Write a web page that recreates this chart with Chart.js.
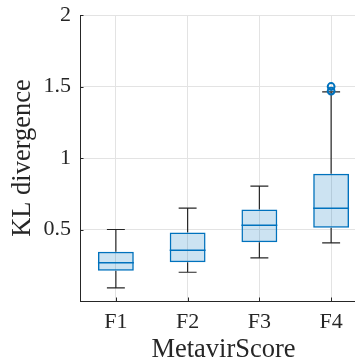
<!DOCTYPE html>
<html>
<head>
<meta charset="utf-8">
<script src="https://cdn.jsdelivr.net/npm/chart.js@4.4.1/dist/chart.umd.min.js"></script>
<style>
  html, body { margin: 0; padding: 0; background: #fff; overflow: hidden; }
  #wrap { width: 367px; height: 363px; }
</style>
</head>
<body>
<div id="wrap"><canvas id="c" width="367" height="363"></canvas></div>
<script>
const categories = ['F1', 'F2', 'F3', 'F4'];
const whiskerLow  = [0.092, 0.201, 0.302, 0.407];
const q1          = [0.211, 0.271, 0.411, 0.512];
const medians     = [0.267, 0.355, 0.530, 0.649];
const q3          = [0.344, 0.479, 0.640, 0.890];
const whiskerHigh = [0.500, 0.649, 0.803, 1.463];
const outlierCategory = ['F4', 'F4'];
const outlierValues   = [1.468, 1.500];
const yTicks = [0.5, 1, 1.5, 2];

const BLUE = '#0072BD';
const AXIS = '#262626';
const GRID = '#e3e3e3';
const FONT = "'Liberation Serif', 'Times New Roman', serif";

const boxPlugin = {
  id: 'boxParts',
  beforeDatasetsDraw(chart) {
    const ctx = chart.ctx;
    const xs = chart.scales.x, ys = chart.scales.y;
    const meta = chart.getDatasetMeta(0);
    ctx.save();
    ctx.strokeStyle = AXIS;
    ctx.lineWidth = 1.2;
    categories.forEach((c, i) => {
      const x = xs.getPixelForValue(i);
      const w = meta.data[i].width / 2;
      const yLo = ys.getPixelForValue(whiskerLow[i]);
      const yHi = ys.getPixelForValue(whiskerHigh[i]);
      const yQ1 = ys.getPixelForValue(q1[i]);
      const yQ3 = ys.getPixelForValue(q3[i]);
      ctx.beginPath();
      ctx.moveTo(x, yQ3); ctx.lineTo(x, yHi);
      ctx.moveTo(x, yQ1); ctx.lineTo(x, yLo);
      ctx.moveTo(x - w / 2, yHi); ctx.lineTo(x + w / 2, yHi);
      ctx.moveTo(x - w / 2, yLo); ctx.lineTo(x + w / 2, yLo);
      ctx.stroke();
    });
    ctx.restore();
  },
  afterDatasetsDraw(chart) {
    const ctx = chart.ctx;
    const xs = chart.scales.x, ys = chart.scales.y;
    const meta = chart.getDatasetMeta(0);
    const area = chart.chartArea;
    ctx.save();
    ctx.strokeStyle = BLUE;
    ctx.lineWidth = 1.5;
    categories.forEach((c, i) => {
      const x = xs.getPixelForValue(i);
      const w = meta.data[i].width / 2;
      const y = ys.getPixelForValue(medians[i]);
      ctx.beginPath();
      ctx.moveTo(x - w, y); ctx.lineTo(x + w, y);
      ctx.stroke();
    });
    ctx.strokeStyle = AXIS;
    ctx.lineWidth = 1;
    ctx.beginPath();
    yTicks.forEach(v => {
      const y = Math.round(ys.getPixelForValue(v)) + 0.5;
      ctx.moveTo(area.left, y); ctx.lineTo(area.left + 3.5, y);
    });
    categories.forEach((c, i) => {
      const x = Math.round(xs.getPixelForValue(i)) + 0.5;
      ctx.moveTo(x, area.bottom); ctx.lineTo(x, area.bottom - 3.5);
    });
    ctx.stroke();
    ctx.restore();
  }
};

new Chart(document.getElementById('c'), {
  type: 'bar',
  data: {
    labels: categories,
    datasets: [
      {
        label: 'box',
        data: categories.map((c, i) => [q1[i], q3[i]]),
        backgroundColor: 'rgba(0,114,189,0.2)',
        borderColor: BLUE,
        borderWidth: 1.5,
        borderSkipped: false,
        barPercentage: 0.5,
        categoryPercentage: 1.0,
        order: 2
      },
      {
        type: 'line',
        label: 'outliers',
        data: outlierValues.map((v, i) => ({ x: outlierCategory[i], y: v })),
        showLine: false,
        pointStyle: 'circle',
        pointRadius: 3.4,
        pointBorderWidth: 2,
        pointBorderColor: BLUE,
        pointBackgroundColor: 'rgba(255,255,255,0)',
        order: 1
      }
    ]
  },
  options: {
    responsive: false,
    devicePixelRatio: 1,
    animation: false,
    layout: { autoPadding: false, padding: { top: 15, right: 0, left: 0, bottom: 0 } },
    plugins: { legend: { display: false }, tooltip: { enabled: false } },
    scales: {
      x: {
        grid: { offset: false, color: GRID, drawTicks: false },
        border: { display: true, color: AXIS, width: 1 },
        ticks: { color: AXIS, font: { family: FONT, size: 22 }, padding: 8, maxRotation: 0 },
        title: { display: true, text: 'MetavirScore', color: AXIS, font: { family: FONT, size: 26.5, lineHeight: 1.1 }, padding: { top: 0, bottom: -2 } },
        afterFit(scale) { scale.height = 62; scale.paddingLeft = 0; scale.paddingRight = 0; }
      },
      y: {
        min: 0, max: 2,
        grid: { color: GRID, drawTicks: false },
        border: { display: true, color: AXIS, width: 1 },
        ticks: {
          stepSize: 0.5,
          color: AXIS,
          font: { family: FONT, size: 22 },
          padding: 9,
          callback: (v) => (v === 0 ? '' : String(v))
        },
        title: { display: true, text: 'KL divergence', color: AXIS, font: { family: FONT, size: 26.5, lineHeight: 1.1 }, padding: { top: 8 } },
        afterFit(scale) { scale.width = 80; scale.paddingTop = 0; scale.paddingBottom = 0; }
      }
    }
  },
  plugins: [boxPlugin]
});
</script>
</body>
</html>
